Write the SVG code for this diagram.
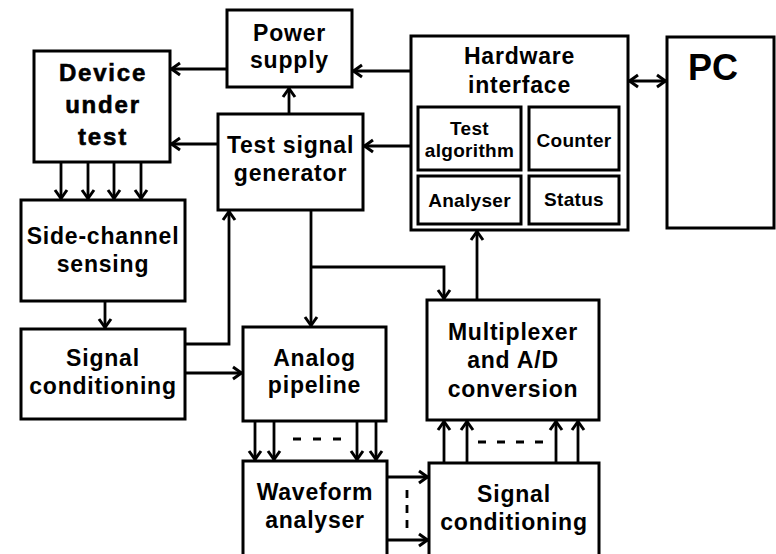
<svg xmlns="http://www.w3.org/2000/svg" width="776" height="554" viewBox="0 0 776 554">
<defs>
<marker id="ah" markerUnits="userSpaceOnUse" markerWidth="20" markerHeight="20" viewBox="-12 -10 14 20" refX="0" refY="0" orient="auto-start-reverse">
<path d="M-9,-6 L-0.5,0 L-9,6" fill="none" stroke="#000" stroke-width="3"/>
</marker>
<style>
.box{fill:#fff;stroke:#000;stroke-width:3}
.c{fill:none;stroke:#000;stroke-width:2.8}
.a{marker-end:url(#ah)}
.d{fill:none;stroke:#000;stroke-width:2.8}
text{font-family:"Liberation Sans",Arial,sans-serif;font-weight:bold;font-size:23px;letter-spacing:0.8px;text-anchor:middle;fill:#000}
.big{font-size:24px;letter-spacing:1.8px;stroke:#000;stroke-width:0.6}
.sm{font-size:19px;letter-spacing:0.3px}
.pc{font-size:36px;letter-spacing:0;text-anchor:start}
</style>
</defs>
<rect width="776" height="554" fill="#fff"/>
<g id="connectors">
<line class="c a" x1="227" y1="69" x2="171" y2="69"/>
<line class="c a" x1="218" y1="144" x2="171" y2="144"/>
<line class="c a" x1="289" y1="114" x2="289" y2="88"/>
<line class="c a" x1="411" y1="71" x2="353" y2="71"/>
<line class="c a" x1="411" y1="146" x2="364" y2="146"/>
<line class="c a" x1="61" y1="162" x2="61" y2="199"/>
<line class="c a" x1="88" y1="162" x2="88" y2="199"/>
<line class="c a" x1="114" y1="162" x2="114" y2="199"/>
<line class="c a" x1="141" y1="162" x2="141" y2="199"/>
<line class="c a" x1="105" y1="301" x2="105" y2="328"/>
<polyline class="c a" points="185,344 229,344 229,211"/>
<line class="c a" x1="185" y1="373" x2="242" y2="373"/>
<line class="c a" x1="311" y1="210" x2="311" y2="326"/>
<polyline class="c a" points="311,267 444,267 444,299"/>
<line class="c a" x1="477" y1="300" x2="477" y2="231"/>
<line class="c a" x1="629" y1="81" x2="666" y2="81" style="marker-start:url(#ah)"/>
<line class="c a" x1="255" y1="421" x2="255" y2="460"/>
<line class="c a" x1="274" y1="421" x2="274" y2="460"/>
<line class="c a" x1="357" y1="421" x2="357" y2="460"/>
<line class="c a" x1="376" y1="421" x2="376" y2="460"/>
<line class="d" x1="293" y1="439" x2="341" y2="439" stroke-dasharray="8 12"/>
<line class="c a" x1="387" y1="477" x2="428" y2="477"/>
<line class="c a" x1="387" y1="540" x2="428" y2="540"/>
<line class="d" x1="407" y1="490" x2="407" y2="528" stroke-dasharray="8 7"/>
<line class="c a" x1="444" y1="463" x2="444" y2="421"/>
<line class="c a" x1="467" y1="463" x2="467" y2="421"/>
<line class="c a" x1="556" y1="463" x2="556" y2="421"/>
<line class="c a" x1="578" y1="463" x2="578" y2="421"/>
<line class="d" x1="478" y1="442" x2="546" y2="442" stroke-dasharray="8 11"/>
</g>
<g id="power-supply">
<rect class="box" x="227" y="10" width="125" height="77"/>
<text x="289.5" y="41">Power</text>
<text x="289.5" y="68">supply</text>
</g>
<g id="device-under-test">
<rect class="box" x="34" y="51" width="136" height="111"/>
<text class="big" x="103" y="81">Device</text>
<text class="big" x="103" y="113">under</text>
<text class="big" x="103" y="145">test</text>
</g>
<g id="test-signal-generator">
<rect class="box" x="218" y="114" width="145" height="96"/>
<text x="290.5" y="153">Test signal</text>
<text x="290.5" y="181">generator</text>
</g>
<g id="hardware-interface">
<rect class="box" x="411" y="36" width="217" height="194"/>
<text x="519.5" y="64">Hardware</text>
<text x="519.5" y="93">interface</text>
</g>
<g id="test-algorithm">
<rect class="box" x="418" y="107" width="103" height="63"/>
<text class="sm" x="469.5" y="135">Test</text>
<text class="sm" x="469.5" y="157">algorithm</text>
</g>
<g id="counter">
<rect class="box" x="529" y="107" width="90" height="63"/>
<text class="sm" x="574" y="147">Counter</text>
</g>
<g id="analyser">
<rect class="box" x="418" y="176" width="103" height="48"/>
<text class="sm" x="469.5" y="207">Analyser</text>
</g>
<g id="status">
<rect class="box" x="529" y="176" width="90" height="48"/>
<text class="sm" x="574" y="206">Status</text>
</g>
<g id="pc">
<rect class="box" x="667" y="37" width="107" height="191"/>
<text class="pc" x="688" y="80">PC</text>
</g>
<g id="side-channel-sensing">
<rect class="box" x="21" y="200" width="164" height="101"/>
<text x="103" y="244">Side-channel</text>
<text x="103" y="272">sensing</text>
</g>
<g id="signal-conditioning-1">
<rect class="box" x="21" y="329" width="164" height="90"/>
<text x="103" y="366">Signal</text>
<text x="103" y="394">conditioning</text>
</g>
<g id="analog-pipeline">
<rect class="box" x="243" y="327" width="143" height="94"/>
<text x="314.5" y="366">Analog</text>
<text x="314.5" y="393">pipeline</text>
</g>
<g id="waveform-analyser">
<rect class="box" x="243" y="461" width="144" height="100"/>
<text x="315" y="500">Waveform</text>
<text x="315" y="528">analyser</text>
</g>
<g id="multiplexer">
<rect class="box" x="427" y="300" width="172" height="120"/>
<text x="513" y="340">Multiplexer</text>
<text x="513" y="368">and A/D</text>
<text x="513" y="397">conversion</text>
</g>
<g id="signal-conditioning-2">
<rect class="box" x="429" y="463" width="170" height="100"/>
<text x="514" y="502">Signal</text>
<text x="514" y="530">conditioning</text>
</g>
</svg>
